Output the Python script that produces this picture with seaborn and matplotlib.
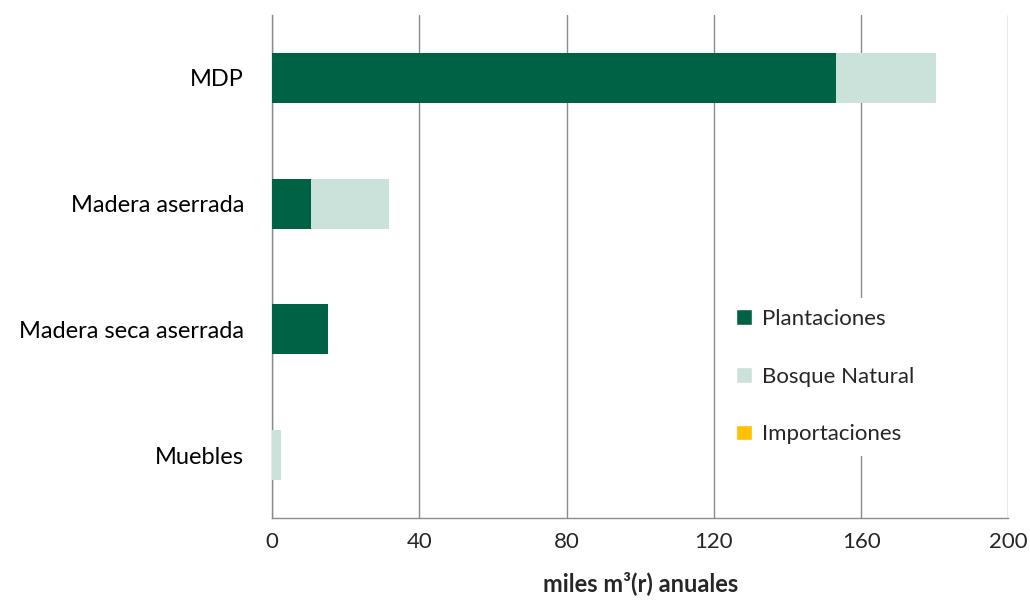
import numpy as np
import pandas as pd
import matplotlib
matplotlib.use("Agg")
import matplotlib.pyplot as plt
from matplotlib.patches import Patch
from matplotlib.ticker import MultipleLocator
import seaborn as sns

# Data (miles m3(r) anuales)
productos = ["MDP", "Madera aserrada", "Madera seca aserrada", "Muebles"]
plantaciones = [153.3, 10.7, 15.2, 0.0]
bosque_natural = [27.0, 21.1, 0.0, 2.4]
importaciones = [0.0, 0.0, 0.0, 0.0]

c_plant = "#006244"
c_bosque = "#cbe2da"
c_import = "#ffc000"
grid_c = "#8c8c8c"

sns.set_style("white")
plt.rcParams["font.family"] = ["Lato", "DejaVu Sans"]

df = pd.DataFrame({
    "producto": productos,
    "plant": plantaciones,
    "bosque": bosque_natural,
    "imp": importaciones,
})
df["plant_bosque"] = df["plant"] + df["bosque"]
df["total"] = df["plant_bosque"] + df["imp"]

fig = plt.figure(figsize=(10.3, 6.05), dpi=100)
ax = fig.add_axes([0.264, 0.144, 0.715, 0.831])

# stacked bars: draw cumulative totals from back to front
for col, c in [("total", c_import), ("plant_bosque", c_bosque), ("plant", c_plant)]:
    sns.barplot(data=df, y="producto", x=col, color=c, width=0.4, orient="h",
                ax=ax, saturation=1, linewidth=0, zorder=3)

ax.set_xlim(0, 200)
ax.set_ylim(3.5, -0.5)
ax.xaxis.set_major_locator(MultipleLocator(40))
ax.grid(axis="x", color=grid_c, linewidth=1, zorder=0)
ax.set_axisbelow(True)

# category separators as minor ticks on the y axis
ax.set_yticks(np.arange(-0.5, 4, 1), minor=True)
ax.tick_params(axis="y", which="major", length=0, labelsize=17, pad=20, colors="black")
ax.tick_params(axis="y", which="minor", length=6, width=1, color=grid_c, direction="out")
ax.tick_params(axis="x", which="major", length=6, width=1, color=grid_c,
               direction="out", labelsize=16, pad=4)

for s in ["top", "right"]:
    ax.spines[s].set_visible(False)
for s in ["left", "bottom"]:
    ax.spines[s].set_color(grid_c)
    ax.spines[s].set_linewidth(1)

ax.set_ylabel("")
ax.set_xlabel("miles m³(r) anuales", fontsize=17, fontweight="bold", labelpad=14)

handles = [
    Patch(facecolor=c_plant, label="Plantaciones"),
    Patch(facecolor=c_bosque, label="Bosque Natural"),
    Patch(facecolor=c_import, label="Importaciones"),
]
leg = ax.legend(handles=handles, loc="upper left", bbox_to_anchor=(0.6, 0.46),
                frameon=True, fontsize=16, handlelength=0.7, handleheight=0.7,
                handletextpad=0.45, labelspacing=1.7, borderpad=0.5)
leg.get_frame().set_facecolor("white")
leg.get_frame().set_edgecolor("none")
leg.get_frame().set_alpha(1)
leg.set_zorder(5)

fig.savefig("out.png", dpi=100)
